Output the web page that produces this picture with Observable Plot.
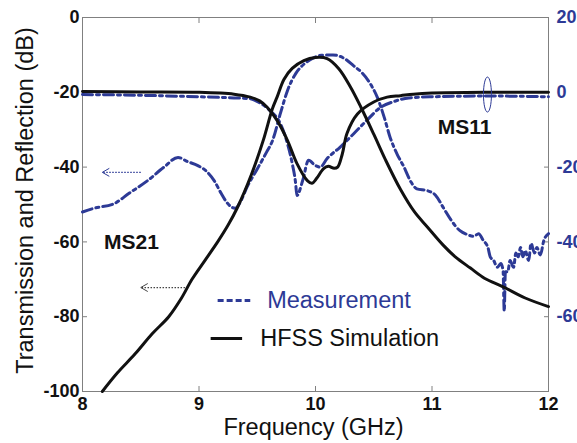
<!DOCTYPE html>
<html><head><meta charset="utf-8">
<script src="https://cdn.jsdelivr.net/npm/d3@7"></script>
<script src="https://cdn.jsdelivr.net/npm/@observablehq/plot@0.6"></script>
<style>html,body{margin:0;padding:0;background:#fff}</style>
</head><body><div id="chart"></div>
<script>
// ---- data (frequency in GHz, levels in dB) ----
const xTicks = [8, 9, 10, 11, 12];
const yTicksLeft = [0, -20, -40, -60, -80, -100];
const yTicksRight = [20, 0, -20, -40, -60];   // right axis (S11) tick values
const RIGHT_OFFSET = 20;                       // right axis value = left value + 20

// HFSS simulation S21 (left axis)
const simS21Freq = [8.17,8.3,8.45,8.6,8.74,8.85,8.94,9.05,9.16,9.25,9.33,9.45,9.55,9.63,9.67,9.73,9.8,9.9,10.0,10.1,10.2,10.3,10.39,10.5,10.6,10.73,10.85,10.96,11.1,11.2,11.33,11.45,11.61,11.8,12.0];
const simS21dB   = [-100,-95,-90,-84.5,-80,-75,-70,-65,-60,-55.5,-50.8,-42,-33,-24.4,-21.3,-16.5,-13.6,-11.5,-10.7,-11,-13.7,-18.6,-24,-31.2,-38,-46,-52,-56,-61,-64,-67,-69.7,-72,-75,-77.3];

// HFSS simulation S11 (right axis)
const simS11Freq = [8,8.5,9.0,9.3,9.44,9.52,9.585,9.67,9.76,9.84,9.93,9.97,10.01,10.07,10.11,10.16,10.19,10.23,10.27,10.36,10.5,10.615,10.73,10.84,11.0,11.5,12];
const simS11dB   = [0.2,0.1,0,-0.5,-1.3,-2.3,-4,-7.5,-12.9,-19,-23.6,-24.3,-23,-20.4,-19.8,-20.3,-20,-16.5,-11,-5.8,-2.6,-1.3,-0.9,-0.5,-0.2,0,0];

// Measured S21 (left axis)
const measS21Freq = [8,8.1,8.27,8.4,8.56,8.7,8.82,8.9,8.99,9.06,9.13,9.19,9.24,9.31,9.36,9.41,9.5,9.58,9.63,9.7,9.76,9.83,9.9,9.97,10.05,10.15,10.25,10.33,10.39,10.47,10.53,10.59,10.64,10.70,10.76,10.82,10.87,10.96,11.03,11.1,11.16,11.24,11.3,11.36,11.4,11.44,11.48,11.5,11.53,11.56,11.59,11.61,11.62,11.63,11.65,11.67,11.7,11.72,11.74,11.76,11.78,11.8,11.83,11.85,11.88,11.9,11.93,11.96,12];
const measS21dB   = [-52,-51,-49.8,-47,-43.6,-40,-37.4,-38.5,-39.6,-41,-43.6,-47,-49.5,-51,-49,-45.5,-40.5,-36,-33,-25.5,-19.5,-15,-12.5,-11,-10.1,-10,-11,-13,-14.5,-17.7,-21.3,-26.7,-32,-36.5,-40,-44,-45.8,-46.3,-47.5,-51,-54,-57,-58,-58.5,-57.8,-59.6,-61.5,-64,-65,-66.8,-65.8,-67.6,-78.5,-68,-68,-65,-66.8,-63,-64,-61.5,-64,-62.3,-65,-60.4,-63,-61.5,-63.5,-59.6,-57.8];

// Measured S11 (right axis)
const measS11Freq = [8,8.5,9.0,9.3,9.44,9.52,9.61,9.70,9.76,9.80,9.83,9.84,9.89,9.94,10.0,10.04,10.1,10.21,10.33,10.44,10.56,10.67,10.8,11.0,11.5,12];
const measS11dB   = [-0.6,-0.8,-1.2,-1.5,-1.7,-2.8,-4.9,-8.5,-13.8,-19,-24.5,-27.6,-23.6,-18.2,-19.6,-20,-17.7,-14.7,-11,-7.5,-4,-2.5,-1.5,-1.2,-1.0,-1.2];

// annotations (data coordinates, left axis dB)
const labelNames = ["MS11", "MS21"];
const labelFreq  = [11.28, 8.42];
const labelDB    = [-29.4, -60.2];

const legendNames = ["Measurement", "HFSS Simulation"];
const legendFreq1 = [9.16, 9.10];
const legendFreq2 = [9.44, 9.37];
const legendTextFreq = [9.585, 9.525];
const legendDB = [-75.7, -85.8];

const arrowFreqFrom = [8.50, 8.88];
const arrowFreqTo   = [8.17, 8.50];
const arrowDB       = [-41.4, -72.2];

const ellipseFreq = [11.476];
const ellipseDB   = [-20.6];

// ---- build ----
const BLUE = "#2d3a96";
const zip = (f, v) => f.map((x, i) => ({f: x, db: v[i]}));
const simS21 = zip(simS21Freq, simS21dB);
const simS11 = zip(simS11Freq, simS11dB);
const measS21 = zip(measS21Freq, measS21dB);
const measS11 = zip(measS11Freq, measS11dB);
const labels = labelNames.map((t, i) => ({t, f: labelFreq[i], db: labelDB[i]}));
const legend = legendNames.map((t, i) => ({t, f1: legendFreq1[i], f2: legendFreq2[i], ft: legendTextFreq[i], db: legendDB[i], c: i === 0 ? BLUE : "#111"}));
const arrows = arrowDB.map((db, i) => ({f1: arrowFreqFrom[i], f2: arrowFreqTo[i], db, c: i === 0 ? BLUE : "#444"}));
const ellipse = ellipseFreq.map((f, i) => ({f, db: ellipseDB[i]}));

const ellipseSymbol = {
  draw(ctx) {
    const rx = 4, ry = 17.5, k = 0.5523;
    ctx.moveTo(rx, 0);
    ctx.bezierCurveTo(rx, k * ry, k * rx, ry, 0, ry);
    ctx.bezierCurveTo(-k * rx, ry, -rx, k * ry, -rx, 0);
    ctx.bezierCurveTo(-rx, -k * ry, -k * rx, -ry, 0, -ry);
    ctx.bezierCurveTo(k * rx, -ry, rx, -k * ry, rx, 0);
    ctx.closePath();
  }
};
const chevronLeft = {
  draw(ctx) {
    ctx.moveTo(7, -4);
    ctx.lineTo(0, 0);
    ctx.lineTo(7, 4);
  }
};

const FONT = "'Liberation Sans', Arial, Helvetica, sans-serif";
const toLeft = d => d.db - RIGHT_OFFSET;
const DASHDOT = "10,4,3,4";

const chart = Plot.plot({
  width: 577, height: 443,
  marginLeft: 82, marginRight: 29, marginTop: 17, marginBottom: 52,
  x: {domain: [8, 12]},
  y: {domain: [-100, 0]},
  style: {fontFamily: FONT, background: "#fff", color: "#111"},
  marks: [
    Plot.frame({stroke: "#808080"}),
    Plot.axisX({ticks: xTicks, tickFormat: d => String(d), tickSize: -5, tickPadding: 11, fontSize: 18, fontWeight: "bold", stroke: "#808080", fill: "#111", label: null}),
    Plot.axisX({anchor: "top", ticks: xTicks, tickSize: -5, tickFormat: () => "", stroke: "#808080", label: null}),
    Plot.axisY({ticks: yTicksLeft, tickFormat: d => String(d), tickSize: -5, tickPadding: 8, fontSize: 18, fontWeight: "bold", stroke: "#808080", fill: "#111", label: null}),
    Plot.axisY({anchor: "right", ticks: yTicksRight.map(v => v - RIGHT_OFFSET), tickFormat: v => String(v + RIGHT_OFFSET), tickSize: -5, tickPadding: 13, fontSize: 18, fontWeight: "bold", stroke: "#808080", fill: BLUE, label: null}),
    // measured curves
    Plot.line(measS11, {x: "f", y: toLeft, stroke: BLUE, strokeWidth: 3, strokeDasharray: DASHDOT, curve: "monotone-x"}),
    Plot.line(measS21, {x: "f", y: "db", stroke: BLUE, strokeWidth: 3, strokeDasharray: DASHDOT, curve: "monotone-x"}),
    // simulated curves
    Plot.line(simS11, {x: "f", y: toLeft, stroke: "#111", strokeWidth: 3, curve: "catmull-rom"}),
    Plot.line(simS21, {x: "f", y: "db", stroke: "#111", strokeWidth: 3, curve: "catmull-rom"}),
    // ellipse around S11 curves
    Plot.dot(ellipse, {x: "f", y: "db", symbol: ellipseSymbol, r: 10, stroke: BLUE, strokeWidth: 1, fill: "none"}),
    // arrows (dotted shafts + open heads)
    Plot.link(arrows, {x1: "f1", x2: "f2", y1: "db", y2: "db", stroke: "c", strokeWidth: 1.3, strokeDasharray: "1.5,1.5"}),
    Plot.dot(arrows, {x: "f2", y: "db", symbol: chevronLeft, r: 5, stroke: "c", strokeWidth: 1, fill: "none"}),
    // curve labels
    Plot.text(labels, {x: "f", y: "db", text: "t", fontSize: 21, fontWeight: "bold", fill: "#111"}),
    // legend
    Plot.link(legend.slice(0, 1), {x1: "f1", x2: "f2", y1: "db", y2: "db", stroke: "c", strokeWidth: 3, strokeDasharray: "6,3"}),
    Plot.link(legend.slice(1), {x1: "f1", x2: "f2", y1: "db", y2: "db", stroke: "c", strokeWidth: 3}),
    Plot.text(legend, {x: "ft", y: "db", text: "t", textAnchor: "start", fontSize: 23.5, fill: "c"}),
    // axis titles
    Plot.text(["Frequency (GHz)"], {frameAnchor: "bottom", textAnchor: "middle", lineAnchor: "middle", dy: 36, dx: -2, fontSize: 23.5, fill: "#111"}),
    Plot.text(["Transmission and Reflection (dB)"], {frameAnchor: "left", textAnchor: "middle", rotate: -90, lineAnchor: "middle", dx: -57, dy: -4, fontSize: 23.5, fill: "#111"})
  ]
});
document.getElementById("chart").appendChild(chart);
</script>
</body></html>
